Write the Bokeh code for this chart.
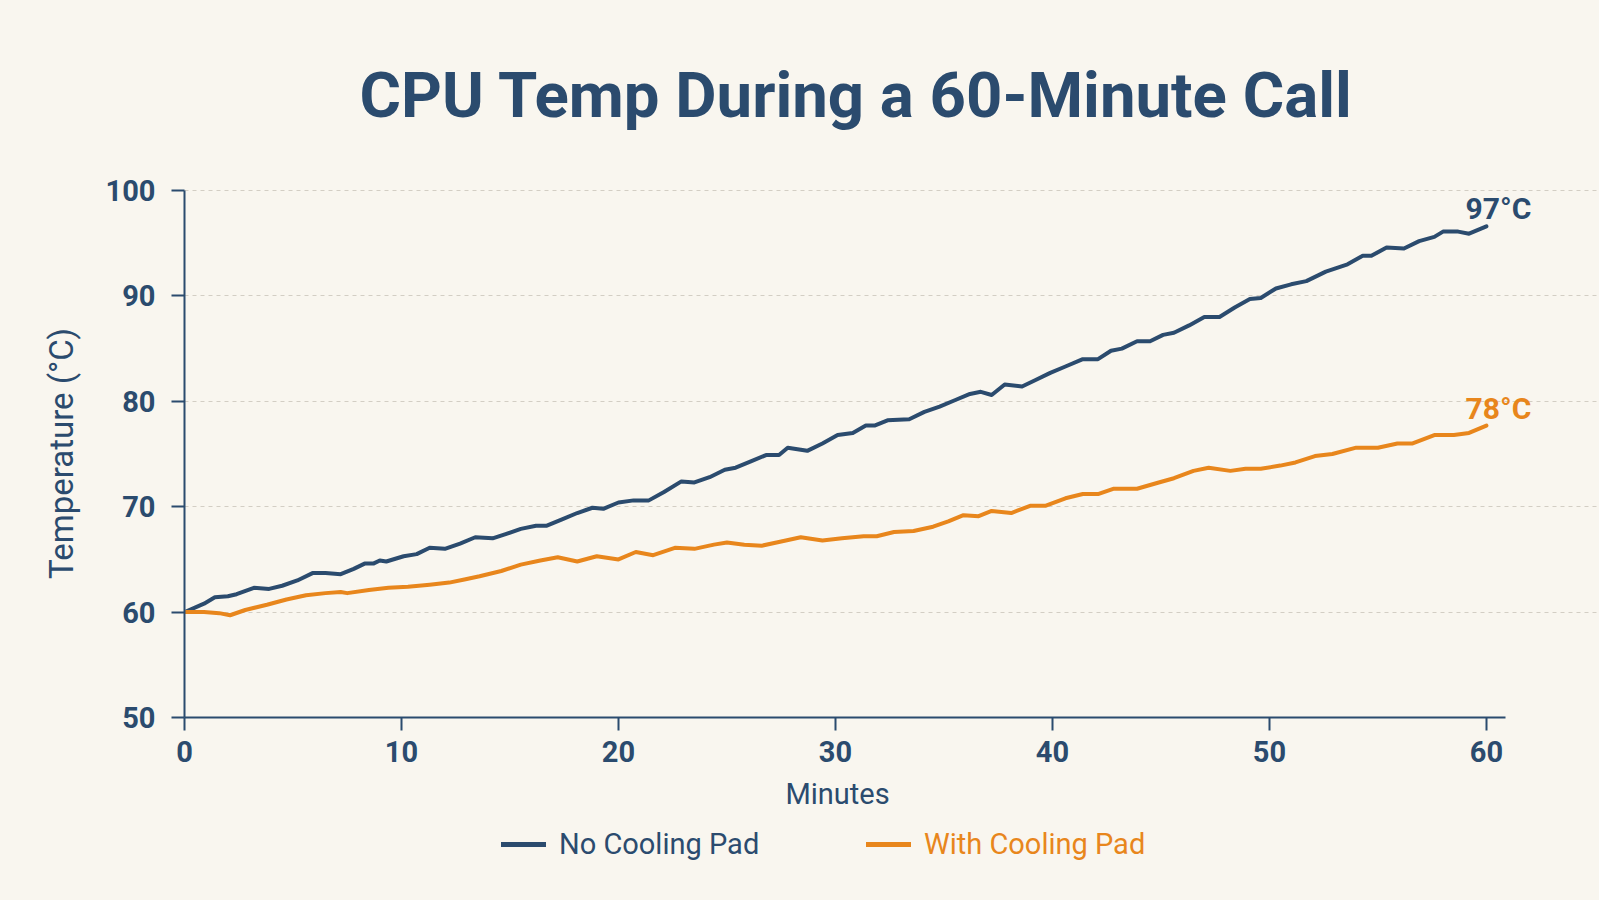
from bokeh.core.properties import value
from bokeh.embed import file_html
from bokeh.layouts import column
from bokeh.models import (ColumnDataSource, FixedTicker, Label, LabelSet, Legend,
                          LegendItem, Range1d)
from bokeh.plotting import figure
from bokeh.resources import INLINE

# ---- data -------------------------------------------------------------------
no_pad_minutes = [0, 0.9, 1.4, 2.0, 2.4, 3.2, 3.9, 4.5, 5.2, 5.9, 6.5, 7.2, 7.8, 8.3,
                  8.7, 9.0, 9.3, 10.1, 10.7, 11.3, 12.0, 12.7, 13.4, 14.2, 14.8, 15.5,
                  16.2, 16.7, 17.4, 18.1, 18.8, 19.3, 20.0, 20.7, 21.4, 22.1, 22.9,
                  23.5, 24.2, 24.9, 25.4, 26.1, 26.8, 27.4, 27.8, 28.7, 29.4, 30.1,
                  30.8, 31.4, 31.8, 32.4, 33.4, 34.1, 34.8, 35.5, 36.2, 36.7, 37.2,
                  37.8, 38.6, 39.2, 39.9, 40.6, 41.4, 42.1, 42.7, 43.2, 43.9, 44.5,
                  45.1, 45.6, 46.3, 47.0, 47.7, 48.4, 49.1, 49.6, 50.3, 51.0, 51.7,
                  52.6, 53.6, 54.3, 54.7, 55.4, 56.2, 56.9, 57.6, 58.0, 58.7, 59.2, 60.0]
no_pad_temp = [60.0, 60.8, 61.4, 61.5, 61.7, 62.3, 62.2, 62.5, 63.0, 63.7, 63.7, 63.6,
               64.1, 64.6, 64.6, 64.9, 64.8, 65.3, 65.5, 66.1, 66.0, 66.5, 67.1, 67.0,
               67.4, 67.9, 68.2, 68.2, 68.8, 69.4, 69.9, 69.8, 70.4, 70.6, 70.6, 71.4,
               72.4, 72.3, 72.8, 73.5, 73.7, 74.3, 74.9, 74.9, 75.6, 75.3, 76.0, 76.8,
               77.0, 77.7, 77.7, 78.2, 78.3, 79.0, 79.5, 80.1, 80.7, 80.9, 80.6, 81.6,
               81.4, 82.0, 82.7, 83.3, 84.0, 84.0, 84.8, 85.0, 85.7, 85.7, 86.3, 86.5,
               87.2, 88.0, 88.0, 88.9, 89.7, 89.8, 90.7, 91.1, 91.4, 92.3, 93.0, 93.8,
               93.8, 94.6, 94.5, 95.2, 95.6, 96.1, 96.1, 95.9, 96.6]

pad_minutes = [0, 0.9, 1.6, 2.1, 2.8, 3.8, 4.7, 5.6, 6.5, 7.2, 7.5, 8.5, 9.4, 10.3,
               11.3, 12.2, 12.9, 13.6, 14.6, 15.5, 16.4, 17.2, 18.1, 19.0, 20.0, 20.8,
               21.6, 22.6, 23.5, 24.4, 25.0, 25.8, 26.6, 27.5, 28.4, 29.4, 30.3, 31.3,
               31.9, 32.7, 33.6, 34.5, 35.2, 35.9, 36.6, 37.2, 38.1, 39.0, 39.7, 40.6,
               41.4, 42.1, 42.8, 43.9, 44.9, 45.6, 46.5, 47.2, 48.2, 48.9, 49.6, 50.5,
               51.2, 52.1, 52.9, 54.0, 55.0, 55.9, 56.6, 57.6, 58.5, 59.2, 60.0]
pad_temp = [60.0, 60.0, 59.9, 59.7, 60.2, 60.7, 61.2, 61.6, 61.8, 61.9, 61.8, 62.1,
            62.3, 62.4, 62.6, 62.8, 63.1, 63.4, 63.9, 64.5, 64.9, 65.2, 64.8, 65.3,
            65.0, 65.7, 65.4, 66.1, 66.0, 66.4, 66.6, 66.4, 66.3, 66.7, 67.1, 66.8,
            67.0, 67.2, 67.2, 67.6, 67.7, 68.1, 68.6, 69.2, 69.1, 69.6, 69.4, 70.1,
            70.1, 70.8, 71.2, 71.2, 71.7, 71.7, 72.3, 72.7, 73.4, 73.7, 73.4, 73.6,
            73.6, 73.9, 74.2, 74.8, 75.0, 75.6, 75.6, 76.0, 76.0, 76.8, 76.8, 77.0, 77.7]

series_names = ["No Cooling Pad", "With Cooling Pad"]
x_ticks = [0, 10, 20, 30, 40, 50, 60]
y_ticks = [50, 60, 70, 80, 90, 100]
x_axis_end = 60.88          # the time axis runs a little past the last tick
y_axis_span = (50, 100)

# ---- style ------------------------------------------------------------------
BG = "#f9f6ef"
NAVY = "#2b4b6e"
ORANGE = "#e8861c"
GRID = "#d3cec4"
FONT = "Roboto"

# page geometry (pixels from the top-left of the page)
W, H = 1599, 900
TITLE_BOTTOM = 170            # title strip: 0 .. 170
MAIN_BOTTOM = 775             # chart: 170 .. 775, legend strip: 775 .. 900
LEFT, AXIS_RIGHT, AXIS_TOP, BOTTOM = 184, 1505, 190, 717
PX_PER_MIN = (AXIS_RIGHT - LEFT) / x_axis_end
PX_PER_DEG = (BOTTOM - AXIS_TOP) / (y_axis_span[1] - y_axis_span[0])
FRAME_TOP = AXIS_TOP - 1

# the chart frame reaches the right edge of the page so the end labels fit;
# the axes and grid are bounded to the data span
x_end = x_axis_end + (W - AXIS_RIGHT) / PX_PER_MIN
y_end = y_axis_span[1] + (AXIS_TOP - FRAME_TOP) / PX_PER_DEG


def strip(top, bottom):
    """A bare figure whose data coordinates are page pixels."""
    f = figure(width=W, height=bottom - top, output_backend="svg",
               toolbar_location=None, x_range=Range1d(LEFT, W),
               y_range=Range1d(bottom, top), x_axis_type=None, y_axis_type=None,
               min_border_left=LEFT, min_border_right=0,
               min_border_top=0, min_border_bottom=0)
    f.background_fill_color = BG
    f.border_fill_color = BG
    f.outline_line_color = None
    f.grid.visible = False
    return f


# ---- title strip ------------------------------------------------------------
top = strip(0, TITLE_BOTTOM)
top.add_layout(Label(x=856, y=95, text="CPU Temp During a 60-Minute Call",
                     text_font=FONT, text_font_size="63.5px", text_font_style="bold",
                     text_color=NAVY, text_align="center", text_baseline="alphabetic"))

# ---- chart ------------------------------------------------------------------
p = figure(width=W, height=MAIN_BOTTOM - TITLE_BOTTOM, output_backend="svg",
           toolbar_location=None,
           x_range=Range1d(0, x_end), y_range=Range1d(y_axis_span[0], y_end),
           min_border_left=LEFT, min_border_right=0,
           min_border_top=FRAME_TOP - TITLE_BOTTOM, min_border_bottom=MAIN_BOTTOM - BOTTOM)
p.background_fill_color = BG
p.border_fill_color = BG
p.outline_line_color = None

p.xgrid.grid_line_color = None
p.ygrid.ticker = FixedTicker(ticks=y_ticks[1:])
p.ygrid.bounds = (0, x_axis_end)
p.ygrid.grid_line_color = GRID
p.ygrid.grid_line_dash = "4 4"
p.ygrid.grid_line_width = 1

for ax, ticks, bounds in ((p.xaxis[0], x_ticks, (0, x_axis_end)),
                          (p.yaxis[0], y_ticks, y_axis_span)):
    ax.ticker = FixedTicker(ticks=ticks)
    ax.bounds = bounds
    ax.axis_line_color = NAVY
    ax.axis_line_width = 2
    ax.major_tick_line_color = NAVY
    ax.major_tick_line_width = 2
    ax.major_tick_out = 13
    ax.major_tick_in = 0
    ax.minor_tick_line_color = None
    ax.major_label_text_color = NAVY
    ax.major_label_text_font = FONT
    ax.major_label_text_font_size = "29px"
    ax.major_label_text_font_style = "bold"
p.xaxis.major_label_standoff = 10
p.yaxis.major_label_standoff = 16
p.yaxis.axis_label = "Temperature (°C)"
p.yaxis.axis_label_standoff = 22
p.yaxis.axis_label_text_color = NAVY
p.yaxis.axis_label_text_font = FONT
p.yaxis.axis_label_text_font_size = "33px"
p.yaxis.axis_label_text_font_style = "normal"

r_no = p.line(no_pad_minutes, no_pad_temp, line_color=NAVY, line_width=4,
              line_join="round", line_cap="round")
r_pad = p.line(pad_minutes, pad_temp, line_color=ORANGE, line_width=4,
               line_join="round", line_cap="round")

# end-of-line value labels
ends = ColumnDataSource(dict(
    x=[no_pad_minutes[-1], pad_minutes[-1]],
    y=[no_pad_temp[-1], pad_temp[-1]],
    text=[f"{no_pad_temp[-1]:.0f}°C", f"{pad_temp[-1]:.0f}°C"],
    color=[NAVY, ORANGE],
))
p.add_layout(LabelSet(x="x", y="y", text="text", source=ends, text_color="color",
                      text_font=value(FONT), text_font_size="30px",
                      text_font_style="bold", text_align="center",
                      text_baseline="bottom", x_offset=12, y_offset=0))

# ---- x-axis title and legend strip -----------------------------------------
bot = strip(MAIN_BOTTOM, H)
bot.add_layout(Label(x=837, y=793, text="Minutes", text_font=FONT,
                     text_font_size="29px", text_color=NAVY,
                     text_align="center", text_baseline="alphabetic"))

for name, color, left in ((series_names[0], NAVY, 501),
                          (series_names[1], ORANGE, 866)):
    # off-screen stand-in so the legend can draw a swatch in the series style
    swatch = bot.line(x=[-20, -10], y=[0, 0], line_color=color, line_width=5,
                      line_cap="round")
    bot.add_layout(Legend(items=[LegendItem(label=name, renderers=[swatch])],
                          location=(left - LEFT, 39), orientation="horizontal",
                          glyph_width=45, glyph_height=30, label_height=30,
                          label_standoff=13, padding=0, margin=0, spacing=0,
                          background_fill_alpha=0, border_line_alpha=0,
                          label_text_color=color, label_text_font=FONT,
                          label_text_font_size="29px"))

page = column(top, p, bot, spacing=0, styles={"background-color": BG})
open("out.html", "w").write(file_html(page, INLINE))
